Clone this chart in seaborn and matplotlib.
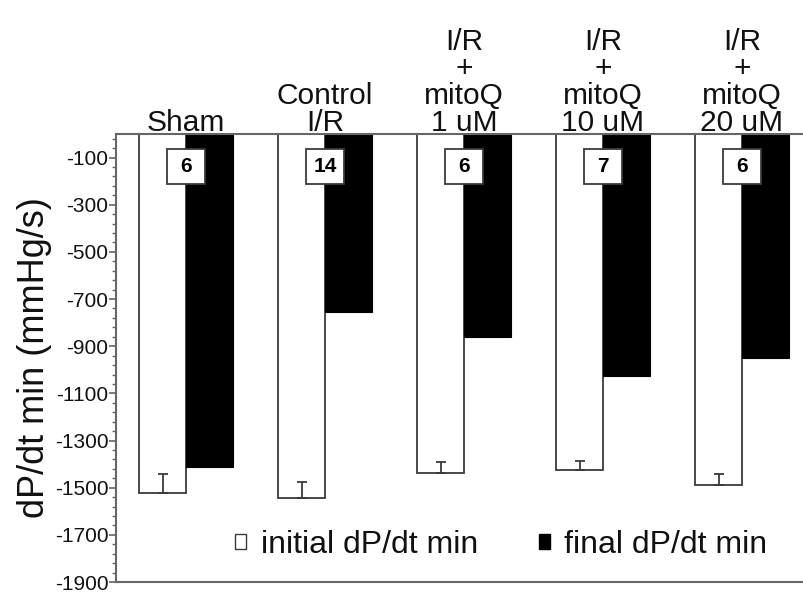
import numpy as np
import pandas as pd
import seaborn as sns
import matplotlib
matplotlib.use("Agg")
import matplotlib.pyplot as plt
from matplotlib.patches import Patch, Rectangle
from matplotlib.ticker import FixedLocator

# ---- data ----
groups = ["Sham", "Control\nI/R", "I/R\n+\nmitoQ\n1 uM", "I/R\n+\nmitoQ\n10 uM", "I/R\n+\nmitoQ\n20 uM"]
series = ["initial dP/dt min", "final dP/dt min"]
initial = [-1523, -1545, -1439, -1426, -1490]
initial_err = [83, 69, 47, 38, 50]
final = [-1412, -753, -863, -1028, -949]
n_counts = [6, 14, 6, 7, 6]
y_ticks = list(range(-1900, 0, 200))

sns.set_theme(style="white")
plt.rcParams["font.family"] = ["Liberation Sans", "DejaVu Sans"]
plt.rcParams["axes.unicode_minus"] = False

df = pd.DataFrame({
    "group": groups * 2,
    "series": [series[0]] * len(groups) + [series[1]] * len(groups),
    "value": initial + final,
})

EDGE = "#3a3a3a"
SPINE = "#666666"

fig = plt.figure(figsize=(8.04, 5.94), dpi=100)
ax = fig.add_axes([116 / 804, 12 / 594, 688 / 804, 448 / 594])

sns.barplot(data=df, x="group", y="value", hue="series", order=groups,
            hue_order=series, palette=["white", "black"], width=0.67, gap=0,
            errorbar=None, saturation=1, legend=False, ax=ax)

init_bars, final_bars = ax.containers[0], ax.containers[1]
for p in init_bars:
    p.set_edgecolor(EDGE)
    p.set_linewidth(1.3)
for p in final_bars:
    p.set_edgecolor("black")
    p.set_linewidth(0.8)

xs = [p.get_x() + p.get_width() / 2 for p in init_bars]
ax.errorbar(xs, initial, yerr=[np.zeros(len(initial)), initial_err], fmt="none",
            ecolor=EDGE, elinewidth=1.3, capsize=3.5, capthick=1.3, zorder=3)

# n boxes
for i, n in enumerate(n_counts):
    ax.add_patch(Rectangle((i - 0.137, -211), 0.273, 148, facecolor="white",
                           edgecolor=EDGE, linewidth=1.3, zorder=4))
    ax.text(i, -139, str(n), ha="center", va="center", fontsize=15,
            fontweight="bold", color="black", zorder=5)

ax.set_ylim(-1900, 0)
ax.set_xlim(-0.504, 4.446)
ax.set_yticks(y_ticks)
ax.yaxis.set_minor_locator(FixedLocator(np.arange(-1900, 0, 40)))

ax.xaxis.tick_top()
ax.set_xticks(range(len(groups)))
ax.set_xticklabels(groups, fontsize=21.5, linespacing=0.95, color="#111111")
ax.tick_params(axis="x", length=0, pad=-2)
ax.set_xlabel("")

ax.tick_params(axis="y", which="major", left=True, direction="out", length=5,
               width=1.2, color=SPINE, labelsize=15, pad=0.5, labelcolor="#111111")
ax.tick_params(axis="y", which="minor", left=True, direction="out", length=3,
               width=1.0, color=SPINE)
ax.set_ylabel("dP/dt min (mmHg/s)", fontsize=26, labelpad=2, color="#111111")

ax.spines["right"].set_visible(False)
for s in ["left", "top", "bottom"]:
    ax.spines[s].set_color(SPINE)
    ax.spines[s].set_linewidth(1.5)

handles = [Patch(facecolor="white", edgecolor=EDGE, linewidth=1.0),
           Patch(facecolor="black", edgecolor="black")]
ax.legend(handles, series, loc="center", bbox_to_anchor=(0.56, 0.082), ncol=2,
          frameon=False, fontsize=23, handlelength=0.35, handleheight=0.35,
          handletextpad=0.45, columnspacing=1.9, labelcolor="#111111")

fig.savefig("out.png", dpi=100)
